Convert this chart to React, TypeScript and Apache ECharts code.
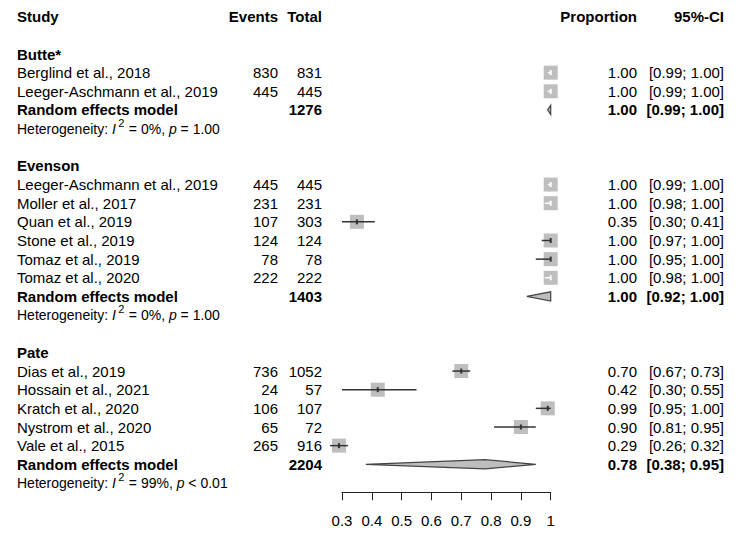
import React, { useEffect, useRef } from "react";
import * as echarts from "echarts";

const FONT = "'Liberation Sans', Arial, Helvetica, sans-serif";

const headers = ["Study", "Events", "Total", "Proportion", "95%-CI"];
const groups = ["Butte*", "Evenson", "Pate"];
const studyNames = [
  "Berglind et al., 2018",
  "Leeger-Aschmann et al., 2019",
  "Leeger-Aschmann et al., 2019",
  "Moller et al., 2017",
  "Quan et al., 2019",
  "Stone et al., 2019",
  "Tomaz et al., 2019",
  "Tomaz et al., 2020",
  "Dias et al., 2019",
  "Hossain et al., 2021",
  "Kratch et al., 2020",
  "Nystrom et al., 2020",
  "Vale et al., 2015",
];
const studyGroup = [0, 0, 1, 1, 1, 1, 1, 1, 2, 2, 2, 2, 2];
const events = [830, 445, 445, 231, 107, 124, 78, 222, 736, 24, 106, 65, 265];
const totals = [831, 445, 445, 231, 303, 124, 78, 222, 1052, 57, 107, 72, 916];
const props = [1.0, 1.0, 1.0, 1.0, 0.35, 1.0, 1.0, 1.0, 0.7, 0.42, 0.99, 0.9, 0.29];
const ciLow = [0.99, 0.99, 0.99, 0.98, 0.3, 0.97, 0.95, 0.98, 0.67, 0.3, 0.95, 0.81, 0.26];
const ciHigh = [1.0, 1.0, 1.0, 1.0, 0.41, 1.0, 1.0, 1.0, 0.73, 0.55, 1.0, 0.95, 0.32];
const modelLabel = "Random effects model";
const modelTotals = [1276, 1403, 2204];
const modelProps = [1.0, 1.0, 0.78];
const modelLow = [0.99, 0.92, 0.38];
const modelHigh = [1.0, 1.0, 0.95];
const hetI2 = ["0%", "0%", "99%"];
const hetP = ["= 1.00", "= 1.00", "< 0.01"];

const COL = { study: 17, events: 278, total: 322, prop: 637, ci: 724 };
const ROW_H = 18.65;
const TOP = 16.7;
const Y_MAX = 25.5;
const HET_SIZE = 14;

type Cell = {
  t: string;
  x: number;
  align: "left" | "right";
  bold?: boolean;
  het?: { i2: string; p: string };
};

const textRows: { row: number; cells: Cell[] }[] = [];
const studyMarks: number[][] = [];
const modelMarks: number[][] = [];

textRows.push({
  row: 0,
  cells: [
    { t: headers[0], x: COL.study, align: "left", bold: true },
    { t: headers[1], x: COL.events, align: "right", bold: true },
    { t: headers[2], x: COL.total, align: "right", bold: true },
    { t: headers[3], x: COL.prop, align: "right", bold: true },
    { t: headers[4], x: COL.ci, align: "right", bold: true },
  ],
});

const ci = (lo: number, hi: number) => `[${lo.toFixed(2)}; ${hi.toFixed(2)}]`;

let r = 2;
groups.forEach((g, gi) => {
  textRows.push({ row: r, cells: [{ t: g, x: COL.study, align: "left", bold: true }] });
  r++;
  studyNames.forEach((name, i) => {
    if (studyGroup[i] !== gi) return;
    textRows.push({
      row: r,
      cells: [
        { t: name, x: COL.study, align: "left" },
        { t: String(events[i]), x: COL.events, align: "right" },
        { t: String(totals[i]), x: COL.total, align: "right" },
        { t: props[i].toFixed(2), x: COL.prop, align: "right" },
        { t: ci(ciLow[i], ciHigh[i]), x: COL.ci, align: "right" },
      ],
    });
    studyMarks.push([props[i], r, ciLow[i], ciHigh[i]]);
    r++;
  });
  textRows.push({
    row: r,
    cells: [
      { t: modelLabel, x: COL.study, align: "left", bold: true },
      { t: String(modelTotals[gi]), x: COL.total, align: "right", bold: true },
      { t: modelProps[gi].toFixed(2), x: COL.prop, align: "right", bold: true },
      { t: ci(modelLow[gi], modelHigh[gi]), x: COL.ci, align: "right", bold: true },
    ],
  });
  modelMarks.push([modelProps[gi], r, modelLow[gi], modelHigh[gi]]);
  r++;
  textRows.push({
    row: r,
    cells: [{ t: "", x: COL.study, align: "left", het: { i2: hetI2[gi], p: hetP[gi] } }],
  });
  r++;
  r++;
});

function measure(text: string, font: string): number {
  const cv = document.createElement("canvas");
  const ctx = cv.getContext("2d");
  if (!ctx) return text.length * 7;
  ctx.font = font;
  return ctx.measureText(text).width;
}

export default function App() {
  const ref = useRef<HTMLDivElement>(null);
  useEffect(() => {
    if (!ref.current) return;
    const chart = echarts.init(ref.current, null, { renderer: "svg" });
    const normalFont = `${HET_SIZE}px ${FONT}`;
    const italicFont = `italic ${HET_SIZE}px ${FONT}`;
    const w1 = measure("Heterogeneity: ", normalFont) + measure("I", italicFont);
    const supW = measure("2", `11px ${FONT}`);
    const hetRich = {
      a: { fontSize: HET_SIZE, fontFamily: FONT, color: "#000" },
      i: { fontSize: HET_SIZE, fontFamily: FONT, fontStyle: "italic", color: "#000" },
    };
    const hetChildren = (c: Cell, y: number) => {
      const x0 = c.x;
      const xs = x0 + w1 + 2.5;
      const x2 = xs + supW + 0.5;
      return [
        {
          type: "text",
          x: x0,
          y,
          style: {
            text: "{a|Heterogeneity: }{i|I}",
            rich: hetRich,
            align: "left",
            verticalAlign: "middle",
            fontFamily: FONT,
            fontSize: HET_SIZE,
            fill: "#000",
          },
        },
        {
          type: "text",
          x: xs,
          y: y - 6,
          style: {
            text: "2",
            align: "left",
            verticalAlign: "middle",
            fontFamily: FONT,
            fontSize: 11,
            fill: "#000",
          },
        },
        {
          type: "text",
          x: x2,
          y,
          style: {
            text: `{a| = ${c.het!.i2}, }{i|p}{a| ${c.het!.p}}`,
            rich: hetRich,
            align: "left",
            verticalAlign: "middle",
            fontFamily: FONT,
            fontSize: HET_SIZE,
            fill: "#000",
          },
        },
      ];
    };
    chart.setOption({
      animation: false,
      backgroundColor: "#fff",
      grid: { left: 342, top: TOP, width: 208.7, height: Y_MAX * ROW_H },
      xAxis: {
        type: "value",
        position: "bottom",
        min: 0.3,
        max: 1,
        interval: 0.1,
        axisLine: { show: true, onZero: false, lineStyle: { color: "#222", width: 1 } },
        axisTick: { show: true, length: 8, lineStyle: { color: "#222", width: 1 } },
        axisLabel: { fontSize: 15, color: "#000", fontFamily: FONT, margin: 21 },
        splitLine: { show: false },
      },
      yAxis: { type: "value", min: 0, max: Y_MAX, inverse: true, show: false },
      series: [
        {
          type: "custom",
          silent: true,
          data: textRows.map((t) => [0.3, t.row]),
          renderItem: (params: any, api: any) => {
            const tr = textRows[params.dataIndex];
            const y = api.coord([0.3, api.value(1)])[1];
            const children: any[] = [];
            tr.cells.forEach((c) => {
              if (c.het) {
                children.push(...hetChildren(c, y));
              } else {
                children.push({
                  type: "text",
                  x: c.x,
                  y,
                  style: {
                    text: c.t,
                    align: c.align,
                    verticalAlign: "middle",
                    fontFamily: FONT,
                    fontSize: 15,
                    fontWeight: c.bold ? "bold" : "normal",
                    fill: "#000",
                  },
                });
              }
            });
            return { type: "group", children };
          },
        },
        {
          type: "custom",
          silent: true,
          data: studyMarks,
          renderItem: (params: any, api: any) => {
            const est = api.value(0);
            const row = api.value(1);
            const c = api.coord([est, row]);
            const l = api.coord([api.value(2), row]);
            const h = api.coord([api.value(3), row]);
            const half = 7;
            const inside = l[0] >= c[0] - half && h[0] <= c[0] + half;
            const col = inside ? "#ffffff" : "#333333";
            return {
              type: "group",
              children: [
                {
                  type: "rect",
                  shape: { x: c[0] - half, y: c[1] - half, width: half * 2, height: half * 2 },
                  style: { fill: "#bebebe" },
                },
                {
                  type: "line",
                  shape: { x1: l[0], y1: c[1], x2: h[0], y2: c[1] },
                  style: { stroke: col, lineWidth: 1.5 },
                },
                {
                  type: "line",
                  shape: { x1: c[0], y1: c[1] - 2.5, x2: c[0], y2: c[1] + 2.5 },
                  style: { stroke: col, lineWidth: 2 },
                },
              ],
            };
          },
        },
        {
          type: "custom",
          silent: true,
          data: modelMarks,
          renderItem: (params: any, api: any) => {
            const row = api.value(1);
            const c = api.coord([api.value(0), row]);
            const l = api.coord([api.value(2), row]);
            const h = api.coord([api.value(3), row]);
            const hh = 4.6;
            return {
              type: "polygon",
              shape: {
                points: [
                  [l[0], c[1]],
                  [c[0], c[1] - hh],
                  [h[0], c[1]],
                  [c[0], c[1] + hh],
                ],
              },
              style: { fill: "#bebebe", stroke: "#444", lineWidth: 1.2 },
            };
          },
        },
      ],
    });
    return () => chart.dispose();
  }, []);
  return (
    <div
      ref={ref}
      style={{ position: "fixed", left: 0, top: 0, width: 744, height: 550, background: "#fff" }}
    />
  );
}
